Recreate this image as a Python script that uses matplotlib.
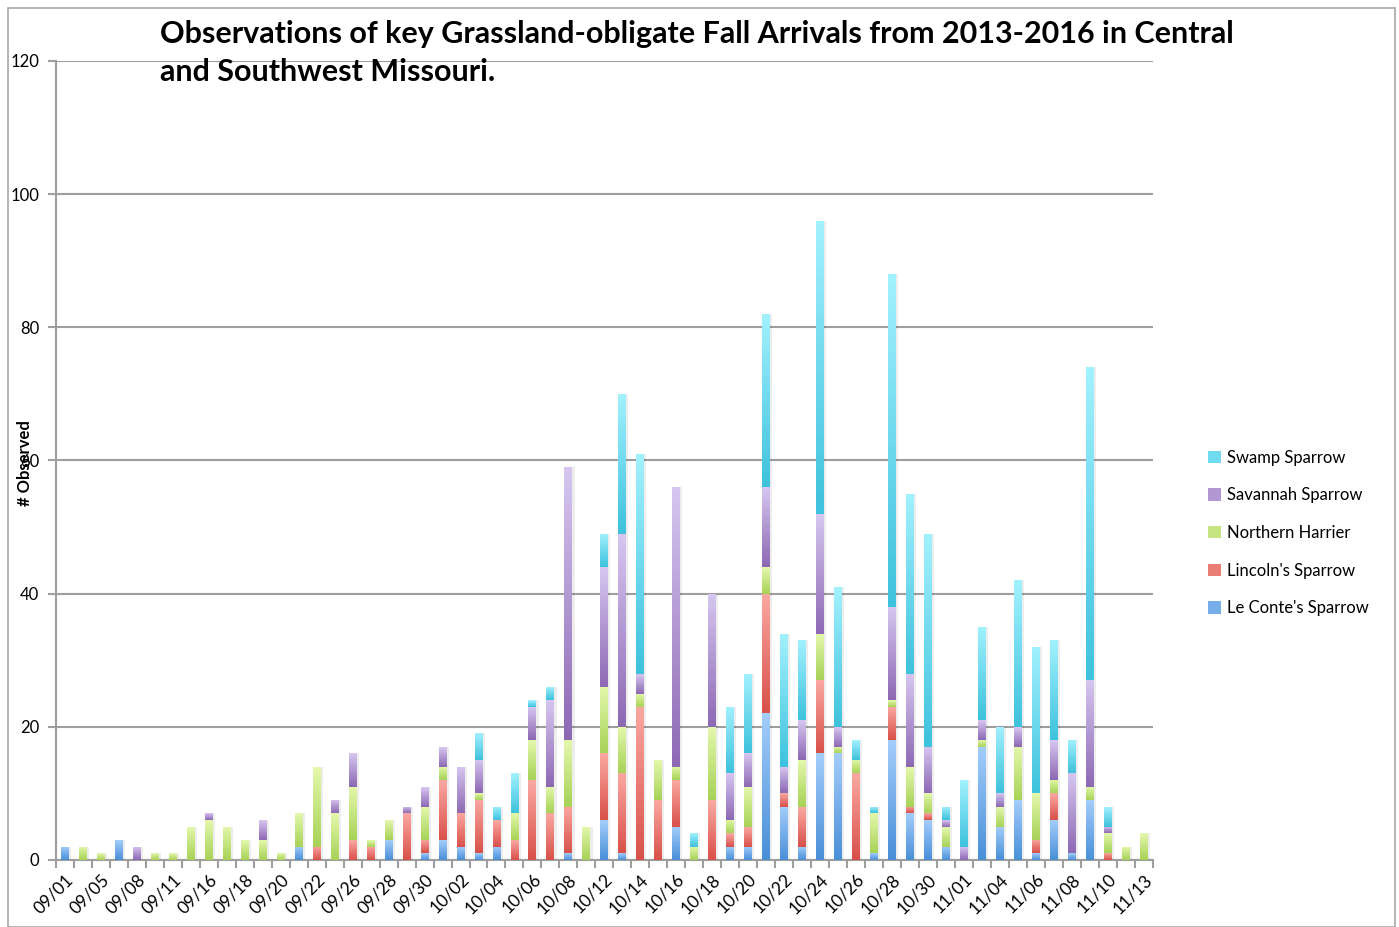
import numpy as np
import matplotlib
matplotlib.use("Agg")
import matplotlib.pyplot as plt
from matplotlib.colors import LinearSegmentedColormap
from matplotlib.patches import Rectangle, Patch

# tick labels shown under every other bar
tick_labels = ["09/01", "09/05", "09/08", "09/11", "09/16", "09/18", "09/20", "09/22",
               "09/26", "09/28", "09/30", "10/02", "10/04", "10/06", "10/08", "10/12",
               "10/14", "10/16", "10/18", "10/20", "10/22", "10/24", "10/26", "10/28",
               "10/30", "11/01", "11/04", "11/06", "11/08", "11/10", "11/13"]

# counts per day (61 days), stacking order bottom -> top
le_conte = [2, 0, 0, 3, 0, 0, 0, 0, 0, 0,
            0, 0, 0, 2, 0, 0, 0, 0, 3, 0,
            1, 3, 2, 1, 2, 0, 0, 0, 1, 0,
            6, 1, 0, 0, 5, 0, 0, 2, 2, 22,
            8, 2, 16, 16, 0, 1, 18, 7, 6, 2,
            0, 17, 5, 9, 1, 6, 1, 9, 0, 0,
            0]
lincoln = [0, 0, 0, 0, 0, 0, 0, 0, 0, 0,
           0, 0, 0, 0, 2, 0, 3, 2, 0, 7,
           2, 9, 5, 8, 4, 3, 12, 7, 7, 0,
           10, 12, 23, 9, 7, 0, 9, 2, 3, 18,
           2, 6, 11, 0, 13, 0, 5, 1, 1, 0,
           0, 0, 0, 0, 2, 4, 0, 0, 1, 0,
           0]
harrier = [0, 2, 1, 0, 0, 1, 1, 5, 6, 5,
           3, 3, 1, 5, 12, 7, 8, 1, 3, 0,
           5, 2, 0, 1, 0, 4, 6, 4, 10, 5,
           10, 7, 2, 6, 2, 2, 11, 2, 6, 4,
           0, 7, 7, 1, 2, 6, 1, 6, 3, 3,
           0, 1, 3, 8, 7, 2, 0, 2, 3, 2,
           4]
savannah = [0, 0, 0, 0, 2, 0, 0, 0, 1, 0,
            0, 3, 0, 0, 0, 2, 5, 0, 0, 1,
            3, 3, 7, 5, 0, 0, 5, 13, 41, 0,
            18, 29, 3, 0, 42, 0, 20, 7, 5, 12,
            4, 6, 18, 3, 0, 0, 14, 14, 7, 1,
            2, 3, 2, 3, 0, 6, 12, 16, 1, 0,
            0]
swamp = [0, 0, 0, 0, 0, 0, 0, 0, 0, 0,
         0, 0, 0, 0, 0, 0, 0, 0, 0, 0,
         0, 0, 0, 4, 2, 6, 1, 2, 0, 0,
         5, 21, 33, 0, 0, 2, 0, 10, 12, 26,
         20, 12, 44, 21, 3, 1, 50, 27, 32, 2,
         10, 14, 10, 22, 22, 15, 5, 47, 3, 0,
         0]

series = [
    ("Le Conte's Sparrow", le_conte, "#A3CDFB", "#4A8FD8"),
    ("Lincoln's Sparrow", lincoln, "#FBA8A2", "#D8514A"),
    ("Northern Harrier", harrier, "#E4F8AC", "#A7D257"),
    ("Savannah Sparrow", savannah, "#D6C6F0", "#8D69B4"),
    ("Swamp Sparrow", swamp, "#A2F1FE", "#3EC2DD"),
]

plt.rcParams['font.family'] = ['Lato', 'DejaVu Sans']

fig = plt.figure(figsize=(13.99, 9.27), dpi=100)
ax = fig.add_axes([0.040, 0.0723, 0.784, 0.8619])

x = np.arange(len(le_conte))
width = 0.44
grad = np.linspace(1, 0, 64).reshape(-1, 1)

totals = np.sum([s[1] for s in series], axis=0)
# faint shadow to the right of each column
ax.bar(x + 0.12, totals, width, color="#000000", alpha=0.07, zorder=2, linewidth=0)

bottom = np.zeros(len(x))
handles = []
for name, vals, top_c, bot_c in series:
    vals = np.array(vals, dtype=float)
    cmap = LinearSegmentedColormap.from_list(name, [bot_c, top_c])
    bars = ax.bar(x, vals, width, bottom=bottom, color=top_c, linewidth=0, zorder=3)
    for b in bars:
        if b.get_height() <= 0:
            continue
        x0, y0 = b.get_x(), b.get_y()
        im = ax.imshow(grad, cmap=cmap, vmin=0, vmax=1, aspect='auto', origin='upper',
                       extent=[x0, x0 + b.get_width(), y0, y0 + b.get_height()],
                       zorder=4, interpolation='bilinear')
        im.set_clip_path(b)
    bottom += vals
    handles.append(Patch(facecolor=cmap(0.5), edgecolor='none', label=name))

ax.set_xlim(-0.5, len(x) - 0.5)
ax.set_ylim(0, 120)
ax.set_yticks(np.arange(0, 121, 20))
ax.yaxis.grid(True, color="#9E9E9E", linewidth=1.5, zorder=1)
ax.set_axisbelow(True)
for s in ["top", "right"]:
    ax.spines[s].set_visible(False)
for s in ["left", "bottom"]:
    ax.spines[s].set_color("#9E9E9E")
    ax.spines[s].set_linewidth(1.5)

ax.set_xticks(np.arange(-0.5, len(x), 1), minor=True)
ax.set_xticks(x[::2])
ax.set_xticklabels(tick_labels, rotation=45, ha='right', rotation_mode='anchor', fontsize=12.5)
ax.tick_params(axis='x', which='major', length=0, pad=8)
ax.tick_params(axis='x', which='minor', length=6, color="#9E9E9E", width=1.5)
ax.tick_params(axis='y', length=6, color="#9E9E9E", width=1.5, labelsize=12, pad=6)

# y label sits over the "60" tick label, as in the original
fig.text(0.018, 0.50, "# Observed", rotation=90, fontsize=12, fontweight='bold',
         ha='center', va='center')

fig.text(160 / 1399, 1 - 20 / 927,
         "Observations of key Grassland-obligate Fall Arrivals from 2013-2016 in Central\n"
         "and Southwest Missouri.",
         fontsize=22, fontweight='bold', ha='left', va='top', linespacing=1.45)

fig.legend(handles=handles[::-1], loc='center left', bbox_to_anchor=(0.853, 0.425),
           frameon=False, fontsize=12, handlelength=0.75, handleheight=0.75,
           handletextpad=0.35, labelspacing=1.3)

fig.patches.append(Rectangle((0.006, 0.0), 0.991, 0.991, transform=fig.transFigure,
                             fill=False, edgecolor="#A8A8A8", linewidth=1.2))

fig.savefig("out.png", dpi=100)
